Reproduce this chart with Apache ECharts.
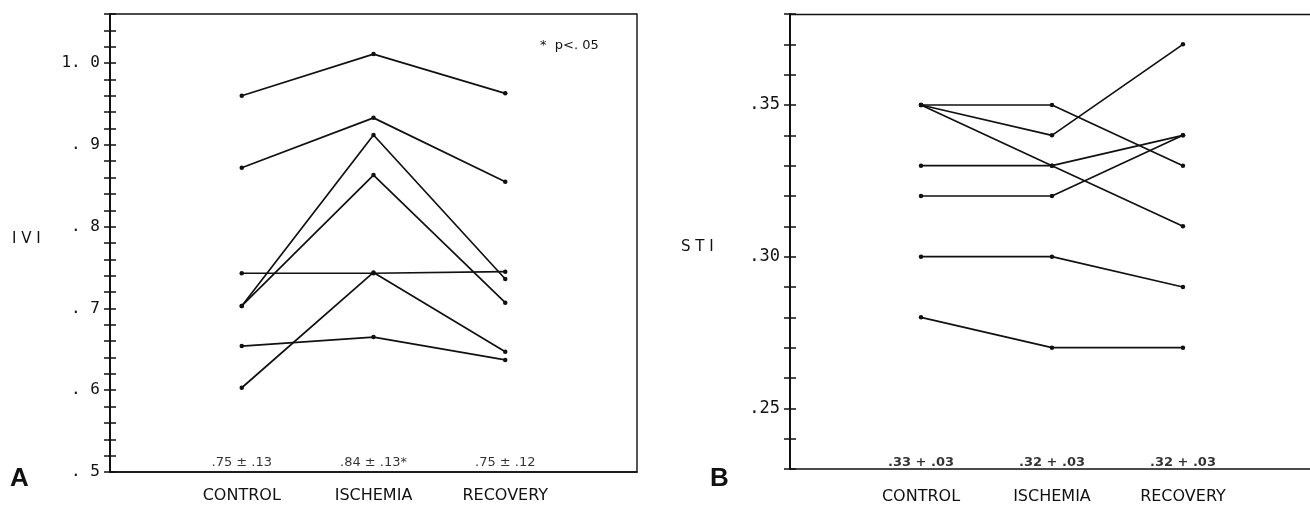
<!DOCTYPE html>
<html><head><meta charset="utf-8">
<script src="https://cdn.jsdelivr.net/npm/echarts@6/dist/echarts.min.js"></script>
<style>html,body{margin:0;padding:0;background:#fff}#c{width:1310px;height:505px}</style>
</head><body><div id="c"></div>
<script>
const categories = ['CONTROL', 'ISCHEMIA', 'RECOVERY'];
// Panel A: IVI per subject (control, ischemia, recovery)
const iviLines = [
  [0.960, 1.011, 0.963],
  [0.872, 0.933, 0.855],
  [0.703, 0.912, 0.736],
  [0.703, 0.863, 0.707],
  [0.743, 0.743, 0.745],
  [0.603, 0.744, 0.647],
  [0.654, 0.665, 0.637]
];
const iviMeans = ['.75 ± .13', '.84 ± .13*', '.75 ± .12'];
const iviTickLabels = { '0.5': '. 5', '0.6': '. 6', '0.7': '. 7', '0.8': '. 8', '0.9': '. 9', '1.0': '1. 0' };
// Panel B: STI per subject
const stiLines = [
  [0.35, 0.35, 0.33],
  [0.35, 0.34, 0.37],
  [0.35, 0.33, 0.31],
  [0.33, 0.33, 0.34],
  [0.32, 0.32, 0.34],
  [0.30, 0.30, 0.29],
  [0.28, 0.27, 0.27]
];
const stiMeans = ['.33 + .03', '.32 + .03', '.32 + .03'];
const stiTickLabels = { '0.25': '.25', '0.30': '.30', '0.35': '.35' };

const INK = '#111';
const chart = echarts.init(document.getElementById('c'), null, { renderer: 'canvas' });

function xAxisFor(gi, max, margin) {
  return {
    type: 'value', gridIndex: gi, min: 0, max, interval: 1,
    axisLine: { show: true, onZero: false, lineStyle: { color: INK, width: 1.6 } },
    axisTick: { show: false }, splitLine: { show: false },
    axisLabel: {
      margin, color: INK, fontFamily: 'DejaVu Sans', fontSize: 16,
      showMaxLabel: false, showMinLabel: false,
      formatter: v => (Math.abs(v - Math.round(v)) < 1e-6 ? categories[Math.round(v) - 1] || '' : '')
    }
  };
}
function yAxesFor(gi, min, max, interval, labels, fontSize) {
  const fmt = v => {
    for (const k in labels) if (Math.abs(parseFloat(k) - v) < 1e-6) return labels[k];
    return '';
  };
  const base = {
    type: 'value', gridIndex: gi, min, max, interval, position: 'left',
    splitLine: { show: false }
  };
  return [
    Object.assign({}, base, {
      axisLine: { show: true, lineStyle: { color: INK, width: 2 } },
      axisTick: { show: true, inside: false, length: 6, lineStyle: { color: INK, width: 1.5 } },
      axisLabel: { margin: 10, color: INK, fontFamily: 'DejaVu Sans Mono', fontSize, formatter: fmt }
    }),
    Object.assign({}, base, {
      axisLine: { show: false },
      axisTick: { show: true, inside: true, length: 6, lineStyle: { color: INK, width: 1.5 } },
      axisLabel: { show: false }
    })
  ];
}
function lineSeries(lines, xi, yi) {
  return lines.map(vals => ({
    type: 'line', xAxisIndex: xi, yAxisIndex: yi,
    data: vals.map((v, i) => [i + 1, v]),
    symbol: 'circle', symbolSize: 4.5, showSymbol: true,
    lineStyle: { color: INK, width: 1.7 }, itemStyle: { color: INK },
    silent: true, animation: false
  }));
}
function meanSeries(means, xi, yi, ymin, bold, dist) {
  return {
    type: 'scatter', xAxisIndex: xi, yAxisIndex: yi, symbolSize: 0,
    data: means.map((m, i) => [i + 1, ymin]),
    label: {
      show: true, position: 'top', distance: dist, color: '#000',
      fontFamily: 'DejaVu Sans', fontSize: 13, fontWeight: bold ? 'bold' : 'normal',
      formatter: p => means[p.dataIndex]
    },
    silent: true, animation: false
  };
}

const yA = yAxesFor(0, 0.5, 1.06, 0.02, iviTickLabels, 16);
const yB = yAxesFor(1, 0.23, 0.38, 0.01, stiTickLabels, 17);

const topLineB = {
  type: 'value', gridIndex: 1, position: 'top', min: 0, max: 3.97,
  axisLine: { show: true, lineStyle: { color: INK, width: 1.4 } },
  axisTick: { show: false }, axisLabel: { show: false }, splitLine: { show: false }
};

chart.setOption({
  animation: false,
  grid: [
    { left: 110, top: 14, width: 527, height: 458, show: true, borderColor: INK, borderWidth: 1.4, containLabel: false },
    { left: 790, top: 14, right: 0, height: 455, show: false, containLabel: false }
  ],
  xAxis: [xAxisFor(0, 4, 16), xAxisFor(1, 3.97, 20), topLineB],
  yAxis: [yA[0], yA[1], yB[0], yB[1]],
  series: [
    ...lineSeries(iviLines, 0, 0),
    meanSeries(iviMeans, 0, 0, 0.5, false, 3),
    ...lineSeries(stiLines, 1, 2),
    meanSeries(stiMeans, 1, 2, 0.23, true, 0)
  ],
  graphic: [
    { type: 'text', left: 10, top: 466, style: { text: 'A', font: 'bold 26px Liberation Sans', fill: INK } },
    { type: 'text', left: 710, top: 466, style: { text: 'B', font: 'bold 26px Liberation Sans', fill: INK } },
    { type: 'text', left: 12, top: 232, style: { text: 'I V I', font: '15px DejaVu Sans', fill: INK } },
    { type: 'text', left: 681, top: 240, style: { text: 'S T I', font: '15px DejaVu Sans', fill: INK } },
    { type: 'text', left: 540, top: 39, style: { text: '*  p<. 05', font: '13px DejaVu Sans', fill: INK } }
  ]
});
</script></body></html>
